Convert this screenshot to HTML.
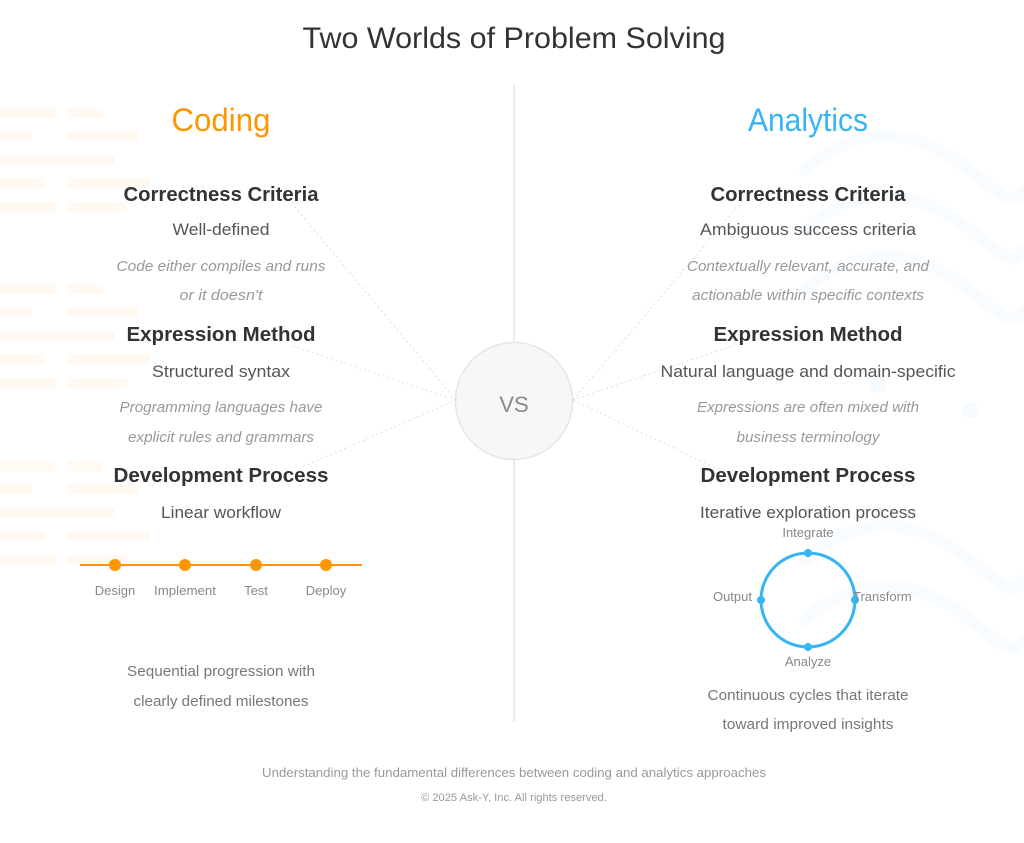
<!DOCTYPE html>
<html><head><meta charset="utf-8"><style>
html,body{margin:0;padding:0;background:#fff;}
svg{display:block;font-family:"Liberation Sans",sans-serif;}
</style></head><body>
<svg width="1024" height="843" viewBox="0 0 1024 843" xmlns="http://www.w3.org/2000/svg">
<defs>
<g id="bars" fill="#FFF9F2">
<rect x="0" y="0" width="56" height="10"/><rect x="68" y="0" width="35" height="10"/>
<rect x="0" y="23" width="32" height="10"/><rect x="68" y="23" width="70" height="10"/>
<rect x="0" y="47" width="115" height="10"/>
<rect x="0" y="70" width="44" height="10"/><rect x="68" y="70" width="82" height="10"/>
<rect x="0" y="94" width="56" height="10"/><rect x="68" y="94" width="59" height="10"/>
</g>
</defs>
<use href="#bars" x="0" y="108"/>
<use href="#bars" x="0" y="284"/>
<use href="#bars" x="0" y="461"/>
<g fill="none" stroke="#F8FCFF" stroke-width="12" stroke-linecap="round">
<path d="M805 170 C860 120 920 130 970 170 S1010 200 1024 190"/>
<path d="M805 230 C860 180 920 190 970 230 S1010 260 1024 250"/>
<path d="M805 290 C860 240 920 250 970 290 S1010 320 1024 310"/>
<path d="M805 560 C860 510 920 520 970 560 S1010 590 1024 580"/>
<path d="M805 620 C860 570 920 580 970 620 S1010 650 1024 640"/>
</g>
<circle cx="970" cy="410" r="8" fill="#F5FAFE"/>
<circle cx="878" cy="385" r="8" fill="#F5FAFE"/>

<text x="514" y="48" text-anchor="middle" font-size="30" fill="#333" textLength="423" lengthAdjust="spacingAndGlyphs">Two Worlds of Problem Solving</text>

<line x1="514" y1="85" x2="514" y2="722" stroke="#E6E6E6" stroke-width="1.5"/>
<g stroke="#DDD" stroke-width="1" stroke-dasharray="2,3" fill="none">
<line x1="456" y1="400" x2="285" y2="195"/>
<line x1="456" y1="400" x2="290" y2="345"/>
<line x1="456" y1="400" x2="300" y2="468"/>
<line x1="573" y1="400" x2="745" y2="198"/>
<line x1="573" y1="400" x2="735" y2="345"/>
<line x1="573" y1="400" x2="720" y2="470"/>
</g>
<circle cx="514" cy="401" r="58.5" fill="#F7F7F7" stroke="#E6E6E6" stroke-width="1.5"/>
<text x="514" y="412" text-anchor="middle" font-size="22" fill="#888">VS</text>

<text x="221" y="131" text-anchor="middle" font-size="32" fill="#FF9500" textLength="99" lengthAdjust="spacingAndGlyphs">Coding</text>
<text x="808" y="131" text-anchor="middle" font-size="32" fill="#36B5F5" textLength="120" lengthAdjust="spacingAndGlyphs">Analytics</text>

<g text-anchor="middle">
<text x="221" y="201" font-size="20" font-weight="bold" fill="#333" textLength="195" lengthAdjust="spacingAndGlyphs">Correctness Criteria</text>
<text x="221" y="235" font-size="17" fill="#555" textLength="97" lengthAdjust="spacingAndGlyphs">Well-defined</text>
<text x="221" y="271" font-size="15" font-style="italic" fill="#999" textLength="209" lengthAdjust="spacingAndGlyphs">Code either compiles and runs</text>
<text x="221" y="300" font-size="15" font-style="italic" fill="#999" textLength="83" lengthAdjust="spacingAndGlyphs">or it doesn't</text>
<text x="221" y="341" font-size="20" font-weight="bold" fill="#333" textLength="189" lengthAdjust="spacingAndGlyphs">Expression Method</text>
<text x="221" y="377" font-size="17" fill="#555" textLength="138" lengthAdjust="spacingAndGlyphs">Structured syntax</text>
<text x="221" y="412" font-size="15" font-style="italic" fill="#999" textLength="203" lengthAdjust="spacingAndGlyphs">Programming languages have</text>
<text x="221" y="442" font-size="15" font-style="italic" fill="#999" textLength="186" lengthAdjust="spacingAndGlyphs">explicit rules and grammars</text>
<text x="221" y="482" font-size="20" font-weight="bold" fill="#333" textLength="215" lengthAdjust="spacingAndGlyphs">Development Process</text>
<text x="221" y="518" font-size="17" fill="#555" textLength="120" lengthAdjust="spacingAndGlyphs">Linear workflow</text>

<text x="808" y="201" font-size="20" font-weight="bold" fill="#333" textLength="195" lengthAdjust="spacingAndGlyphs">Correctness Criteria</text>
<text x="808" y="235" font-size="17" fill="#555" textLength="216" lengthAdjust="spacingAndGlyphs">Ambiguous success criteria</text>
<text x="808" y="271" font-size="15" font-style="italic" fill="#999" textLength="242" lengthAdjust="spacingAndGlyphs">Contextually relevant, accurate, and</text>
<text x="808" y="300" font-size="15" font-style="italic" fill="#999" textLength="232" lengthAdjust="spacingAndGlyphs">actionable within specific contexts</text>
<text x="808" y="341" font-size="20" font-weight="bold" fill="#333" textLength="189" lengthAdjust="spacingAndGlyphs">Expression Method</text>
<text x="808" y="377" font-size="17" fill="#555" textLength="295" lengthAdjust="spacingAndGlyphs">Natural language and domain-specific</text>
<text x="808" y="412" font-size="15" font-style="italic" fill="#999" textLength="222" lengthAdjust="spacingAndGlyphs">Expressions are often mixed with</text>
<text x="808" y="442" font-size="15" font-style="italic" fill="#999" textLength="143" lengthAdjust="spacingAndGlyphs">business terminology</text>
<text x="808" y="482" font-size="20" font-weight="bold" fill="#333" textLength="215" lengthAdjust="spacingAndGlyphs">Development Process</text>
<text x="808" y="518" font-size="17" fill="#555" textLength="216" lengthAdjust="spacingAndGlyphs">Iterative exploration process</text>
</g>

<line x1="80" y1="565" x2="362" y2="565" stroke="#FF9500" stroke-width="2"/>
<g fill="#FF9500"><circle cx="115" cy="565" r="6"/><circle cx="185" cy="565" r="6"/><circle cx="256" cy="565" r="6"/><circle cx="326" cy="565" r="6"/></g>
<g font-size="13" fill="#888" text-anchor="middle">
<text x="115" y="595">Design</text><text x="185" y="595" textLength="62" lengthAdjust="spacingAndGlyphs">Implement</text><text x="256" y="595">Test</text><text x="326" y="595">Deploy</text>
</g>
<g font-size="15" fill="#777" text-anchor="middle">
<text x="221" y="676" textLength="188" lengthAdjust="spacingAndGlyphs">Sequential progression with</text>
<text x="221" y="706" textLength="175" lengthAdjust="spacingAndGlyphs">clearly defined milestones</text>
<text x="808" y="700" textLength="201" lengthAdjust="spacingAndGlyphs">Continuous cycles that iterate</text>
<text x="808" y="729" textLength="171" lengthAdjust="spacingAndGlyphs">toward improved insights</text>
</g>

<circle cx="808" cy="600" r="47" fill="none" stroke="#36B5F5" stroke-width="3"/>
<g fill="#36B5F5"><circle cx="808" cy="553" r="4"/><circle cx="855" cy="600" r="4"/><circle cx="808" cy="647" r="4"/><circle cx="761" cy="600" r="4"/></g>
<g font-size="13" fill="#888">
<text x="808" y="537" text-anchor="middle">Integrate</text>
<text x="853" y="601">Transform</text>
<text x="808" y="666" text-anchor="middle">Analyze</text>
<text x="752" y="601" text-anchor="end">Output</text>
</g>

<text x="514" y="777" text-anchor="middle" font-size="13" fill="#999" textLength="504" lengthAdjust="spacingAndGlyphs">Understanding the fundamental differences between coding and analytics approaches</text>
<text x="514" y="801" text-anchor="middle" font-size="11" fill="#999" textLength="186" lengthAdjust="spacingAndGlyphs">© 2025 Ask-Y, Inc. All rights reserved.</text>
</svg>
</body></html>
